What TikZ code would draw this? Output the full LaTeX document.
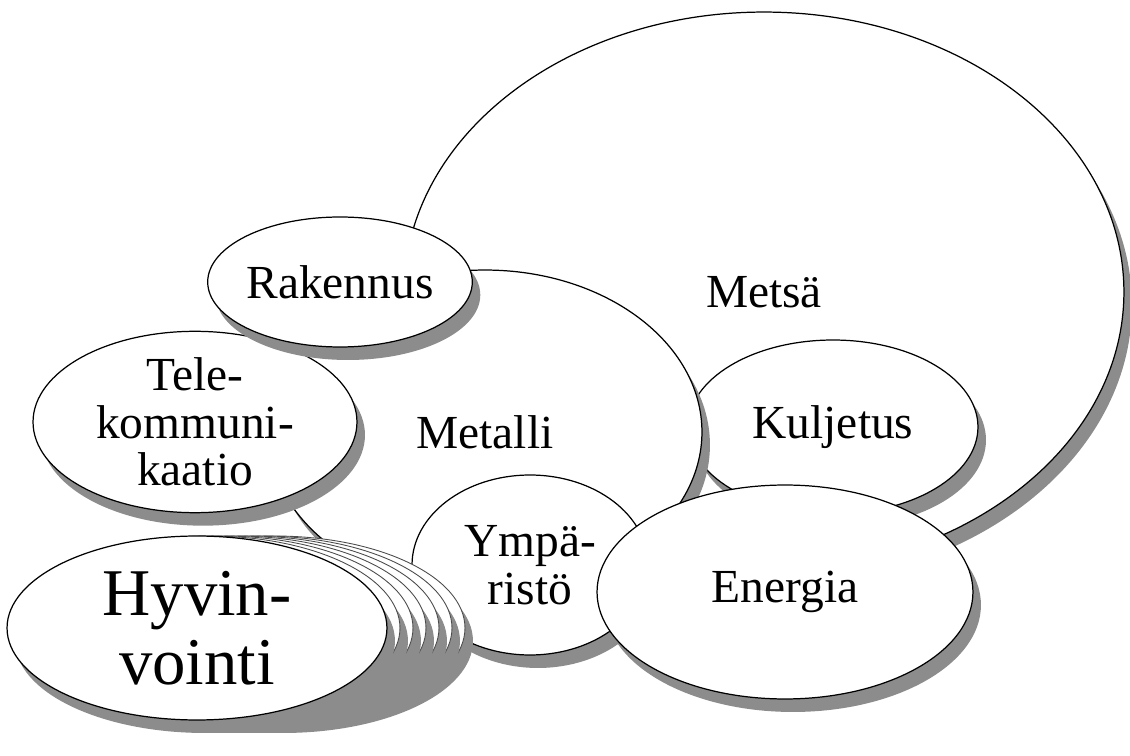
\documentclass[tikz,border=0pt]{standalone}
\usepackage{fontspec}
\setmainfont{Liberation Serif}
\usetikzlibrary{shapes.geometric, shadows}

\begin{document}
\begin{tikzpicture}[
    x=0.02cm, y=-0.02cm,
    alue/.style={ellipse, draw, line width=0.7pt, fill=white, inner sep=0pt, align=center,
        font=\fontsize{27}{27}\selectfont,
        drop shadow={shadow xshift=0.16cm, shadow yshift=-0.26cm, fill=black!45, opacity=1}},
    haamu/.style={ellipse, draw=black!70, line width=0.5pt, fill=white, inner sep=0pt,
        drop shadow={shadow xshift=0.16cm, shadow yshift=-0.26cm, fill=black!45, opacity=1}}
]
\useasboundingbox (0,0) rectangle (1130,756);

% ============ BACK ROW ============
\node[alue, minimum width=14.4cm, minimum height=11.2cm] (metsa) at (764,292) {Mets\"a};
\node[alue, minimum width=5.8cm, minimum height=3.48cm] (kuljetus) at (833,427) {Kuljetus};
\node[alue, minimum width=8.68cm, minimum height=6.48cm] (metalli) at (485,432) {Metalli};

% ============ LEFT SIDE ============
\node[alue, minimum width=6.48cm, minimum height=3.36cm] (tele) at (195,422) {Tele-\\kommuni-\\kaatio};
\node[alue, minimum width=5.08cm, minimum height=2.6cm] (rakennus) at (340,282) {Rakennus};

% ============ FRONT ROW ============
\node[alue, minimum width=4.72cm, minimum height=3.6cm] (ymparisto) at (530,565) {Ymp\"a-\\rist\"o};
\node[alue, minimum width=7.52cm, minimum height=4.28cm] (energia) at (785,592) {Energia};

% smeared copies behind Hyvinvointi
\foreach \i in {6,5,...,1}
    \node[haamu, minimum width=7.6cm, minimum height=3.68cm] (hyvkopio\i) at ({197+13*\i},628) {};
\node[alue, minimum width=7.6cm, minimum height=3.68cm, font=\fontsize{38}{39}\selectfont] (hyvinvointi) at (197,628) {Hyvin-\\vointi};

\end{tikzpicture}
\end{document}
